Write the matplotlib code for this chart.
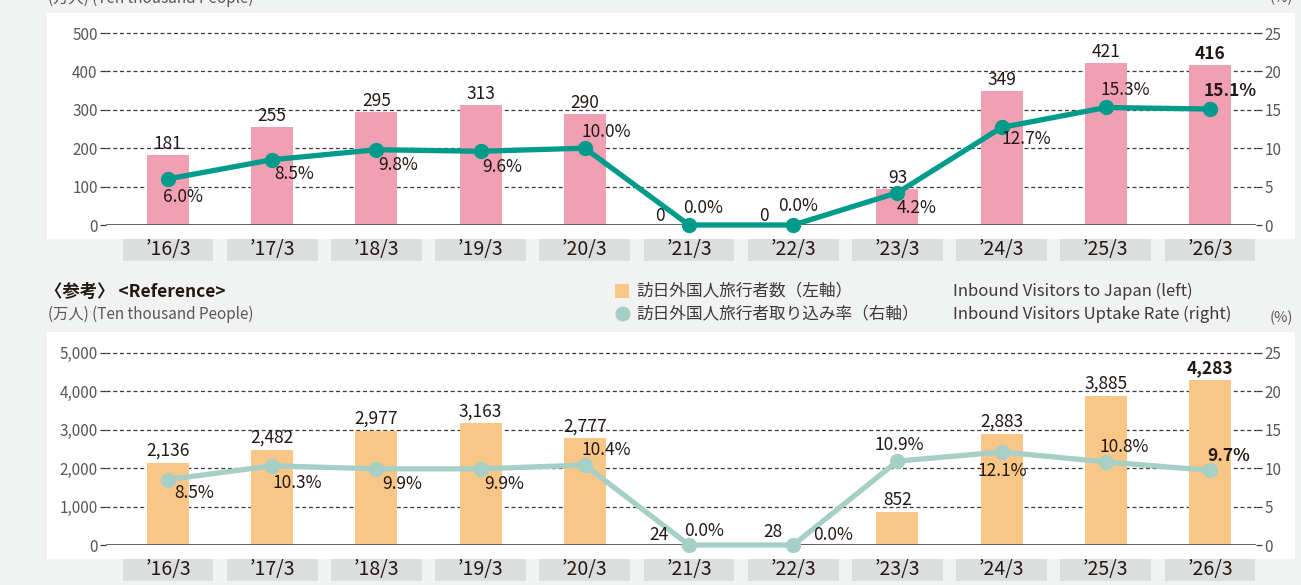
import matplotlib
matplotlib.use('Agg')
import matplotlib.pyplot as plt
from matplotlib.patches import Rectangle, Ellipse
from matplotlib.transforms import blended_transform_factory

plt.rcParams['font.family'] = ['Noto Sans CJK JP', 'DejaVu Sans']

# data
periods = ['’16/3', '’17/3', '’18/3', '’19/3', '’20/3', '’21/3', '’22/3',
           '’23/3', '’24/3', '’25/3', '’26/3']
customers = [181, 255, 295, 313, 290, 0, 0, 93, 349, 421, 416]
uptake_rate = [6.0, 8.5, 9.8, 9.6, 10.0, 0.0, 0.0, 4.2, 12.7, 15.3, 15.1]
inbound_visitors = [2136, 2482, 2977, 3163, 2777, 24, 28, 852, 2883, 3885, 4283]
inbound_rate = [8.5, 10.3, 9.9, 9.9, 10.4, 0.0, 0.0, 10.9, 12.1, 10.8, 9.7]

left_ticks_top = [0, 100, 200, 300, 400, 500]
left_ticks_bot = [0, 1000, 2000, 3000, 4000, 5000]
right_ticks = [0, 5, 10, 15, 20, 25]

# label offsets in pixels (dx, dy), centre of text relative to point
rate_off_top = [(15, -18), (22, -14), (22, -15), (22, -16), (21, 16), (14, 17),
                (5, 19), (19, -15), (25, -12), (19, 17), (20, 18)]
bar_off_top = [(0, 11)] * 5 + [(-29, 9), (-29, 9)] + [(0, 11)] * 4
rate_off_bot = [(26, -13), (25, -17), (26, -15), (24, -15), (21, 15), (15, 14),
                (40, 10), (2, 16), (1, -19), (18, 15), (19, 14)]
bar_off_bot = [(0, 12)] * 5 + [(-30, 9), (-20, 12)] + [(0, 12)] * 4

W, H = 1301, 585
BG = '#f1f2f2'
fig = plt.figure(figsize=(W / 100, H / 100), dpi=100, facecolor=BG)


def fy(p):
    return 1 - p / H


# white panels (behind the axes)
for top, bot in [(13, 239), (332, 559)]:
    fig.patches.append(Rectangle((47 / W, fy(bot)), (1295 - 47) / W, (bot - top) / H,
                                 transform=fig.transFigure, facecolor='white',
                                 edgecolor='none', zorder=-5))

x0, step = 168, 104.2
xlim = ((106 - x0) / step, (1256 - x0) / step)
xs = list(range(len(periods)))


def panel(top, bot, box_top, box_bot, bars, bar_color, rates, line_color,
          lticks, lmax, rate_off, bar_off, comma):
    ax = fig.add_axes([106 / W, fy(bot), (1256 - 106) / W, (bot - top) / H])
    ax.set_facecolor('none')
    ax.set_xlim(*xlim)
    ax.set_ylim(0, lmax)
    for s in ax.spines.values():
        s.set_visible(False)
    ax.bar(xs, bars, width=42 / step, color=bar_color, zorder=2)
    for t in lticks[1:]:
        ax.axhline(t, color='#3e3a39', lw=0.9, ls=(0, (3.2, 2.2)), zorder=1,
                   clip_on=False)
    ax.axhline(0, color='#595757', lw=1.3, zorder=3)
    ax.set_xticks([])
    ax.set_yticks(lticks)
    ax.set_yticklabels([f'{t:,}' if comma else str(t) for t in lticks])
    ax.tick_params(axis='y', length=4, width=0.9, color='#3e3a39', pad=2,
                   labelsize=11, labelcolor='#595757')

    ax2 = ax.twinx()
    ax2.set_ylim(0, 25)
    ax2.set_xlim(*xlim)
    for s in ax2.spines.values():
        s.set_visible(False)
    ax2.set_yticks(right_ticks)
    ax2.tick_params(axis='y', length=4, width=0.9, color='#3e3a39', pad=2,
                    labelsize=11, labelcolor='#595757')
    ax2.plot(xs, rates, color=line_color, lw=3.8, marker='o', markersize=10,
             zorder=4, solid_capstyle='round', clip_on=False)

    n = len(xs)
    for i in xs:
        w = 'bold' if i == n - 1 else 'normal'
        txt = f'{bars[i]:,}' if comma else str(bars[i])
        ax2.annotate(txt, (i, bars[i]), xycoords=ax.transData,
                     xytext=bar_off[i], textcoords='offset pixels',
                     ha='center', va='center', fontsize=12.5, weight=w,
                     color='#231815', zorder=6)
        ax2.annotate(f'{rates[i]:.1f}%', (i, rates[i]),
                     xytext=rate_off[i], textcoords='offset pixels',
                     ha='center', va='center', fontsize=12.5, weight=w,
                     color='#231815', zorder=6)

    # category boxes
    tr = blended_transform_factory(ax.transData, fig.transFigure)
    for i, lab in enumerate(periods):
        fig.patches.append(Rectangle((i - 0.435, fy(box_bot)), 0.87,
                                     (box_bot - box_top) / H, transform=tr,
                                     facecolor='#dcdddd', edgecolor='none'))
        fig.text(i, fy((box_top + box_bot) / 2), lab, transform=tr,
                 ha='center', va='center', fontsize=14, color='#231815')
    return ax


panel(33, 225, 239, 261, customers, '#f1a0b4', uptake_rate, '#009b8b',
      left_ticks_top, 500, rate_off_top, bar_off_top, False)
panel(352.7, 545, 559, 581, inbound_visitors, '#f8c686', inbound_rate, '#a6cfc6',
      left_ticks_bot, 5000, rate_off_bot, bar_off_bot, True)

# header texts (top ones are cut by the frame, as in the source)
fig.text(48 / W, fy(-2), '(万人) (Ten thousand People)', ha='left', va='center',
         fontsize=11, color='#595757')
fig.text(1293 / W, fy(-2), '(%)', ha='right', va='center', fontsize=10.5,
         color='#595757')
fig.text(45 / W, fy(292), '〈参考〉 <Reference>', ha='left', va='center',
         fontsize=12.5, weight='bold', color='#231815')
fig.text(48 / W, fy(314), '(万人) (Ten thousand People)', ha='left', va='center',
         fontsize=11, color='#595757')
fig.text(1293 / W, fy(318), '(%)', ha='right', va='center', fontsize=10.5,
         color='#595757')

# legend
fig.patches.append(Rectangle((615 / W, fy(298)), 14 / W, 14 / H,
                             transform=fig.transFigure, facecolor='#f8c686',
                             edgecolor='none'))
fig.patches.append(Ellipse((623 / W, fy(314)), 15 / W, 15 / H,
                           transform=fig.transFigure, facecolor='#a6cfc6',
                           edgecolor='none'))
fig.text(636 / W, fy(291), '訪日外国人旅行者数（左軸）', ha='left', va='center',
         fontsize=12, color='#3e3a39')
fig.text(636 / W, fy(314), '訪日外国人旅行者取り込み率（右軸）', ha='left', va='center',
         fontsize=12, color='#3e3a39')
fig.text(953 / W, fy(291), 'Inbound Visitors to Japan (left)', ha='left', va='center',
         fontsize=12, color='#3e3a39')
fig.text(953 / W, fy(314), 'Inbound Visitors Uptake Rate (right)', ha='left',
         va='center', fontsize=12, color='#3e3a39')

fig.savefig('out.png', dpi=100, facecolor=BG)
